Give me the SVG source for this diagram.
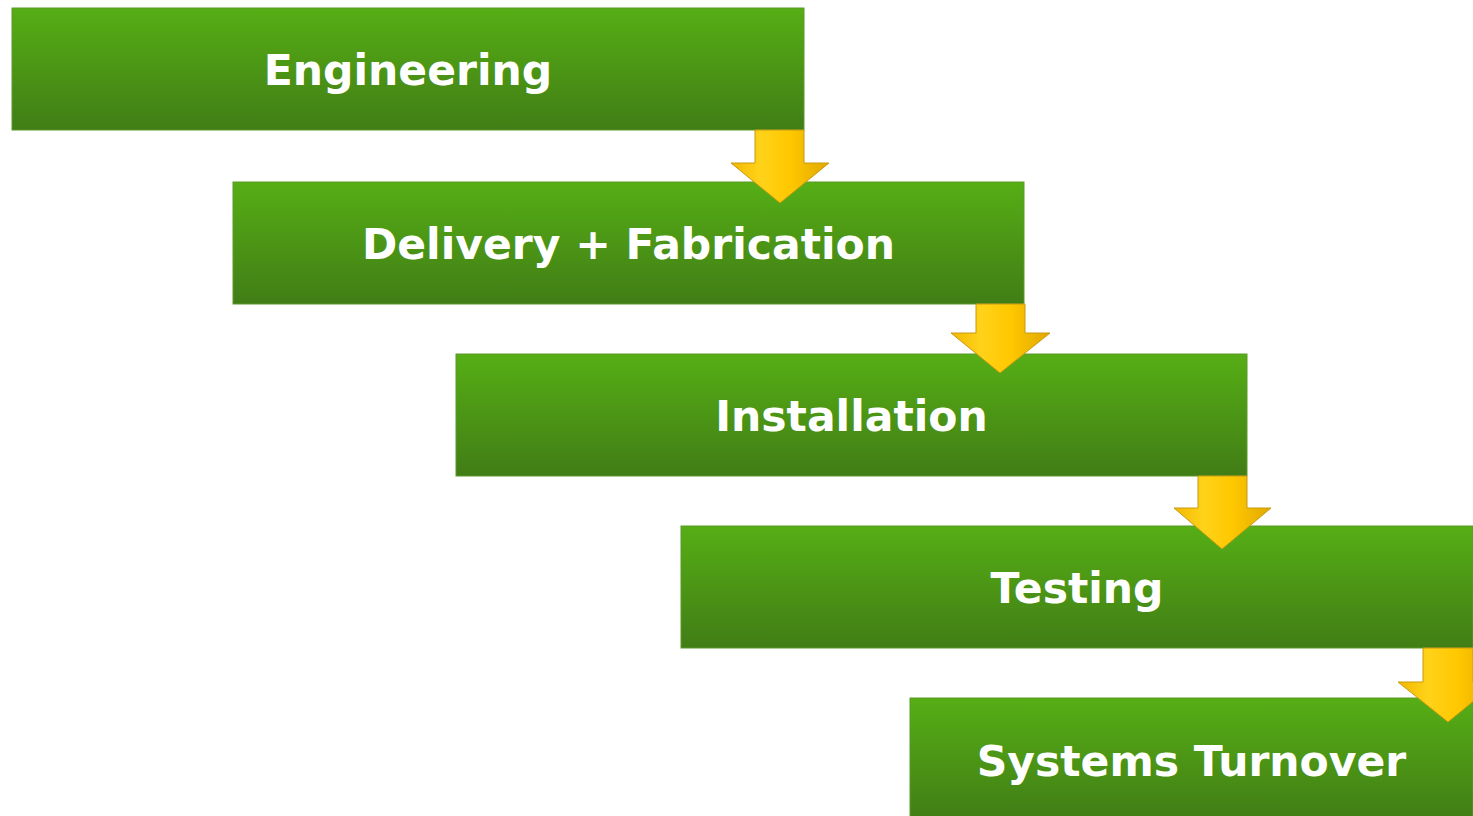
<svg xmlns="http://www.w3.org/2000/svg" width="1473" height="816" viewBox="0 0 1473 816">
<defs>
<linearGradient id="g" x1="0" y1="0" x2="0" y2="1">
<stop offset="0" stop-color="#56ae15"/>
<stop offset="1" stop-color="#417d16"/>
</linearGradient>
<linearGradient id="y" x1="0" y1="0" x2="1" y2="0">
<stop offset="0" stop-color="#f2b800"/>
<stop offset="0.3" stop-color="#ffd21a"/>
<stop offset="0.6" stop-color="#ffc800"/>
<stop offset="1" stop-color="#e0a800"/>
</linearGradient>
<style>
.box{fill:url(#g);stroke:#5a9a2a;stroke-width:1}
.lbl{font-family:"DejaVu Sans",Verdana,sans-serif;font-weight:bold;font-size:42.5px;fill:#ffffff;text-anchor:middle}
.arr{fill:url(#y);stroke:#c89a10;stroke-width:1}
</style>
</defs>
<rect width="1473" height="816" fill="#ffffff"/>
<g id="n1"><rect class="box" x="12" y="8" width="792" height="122"/><text class="lbl" x="408" y="85">Engineering</text></g>
<g id="n2"><rect class="box" x="233" y="182" width="791" height="122"/><text class="lbl" x="628.5" y="259">Delivery + Fabrication</text></g>
<g id="n3"><rect class="box" x="456" y="354" width="791" height="122"/><text class="lbl" x="851.5" y="431">Installation</text></g>
<g id="n4"><rect class="box" x="681" y="526" width="792" height="122"/><text class="lbl" x="1077" y="603">Testing</text></g>
<g id="n5"><rect class="box" x="910" y="698" width="563" height="122"/><text class="lbl" x="1191.5" y="776">Systems Turnover</text></g>
<g id="connectors">
<polygon class="arr" points="755,130 804,130 804,163 829,163 780,203 731,163 755,163"/>
<polygon class="arr" points="976,304 1025,304 1025,333 1050,333 1000,373 951,333 976,333"/>
<polygon class="arr" points="1198,476 1247,476 1247,508 1271,508 1222,549 1174,508 1198,508"/>
<polygon class="arr" points="1423,648 1473,648 1473,682 1497,682 1448,722 1398,682 1423,682"/>
</g>
</svg>
